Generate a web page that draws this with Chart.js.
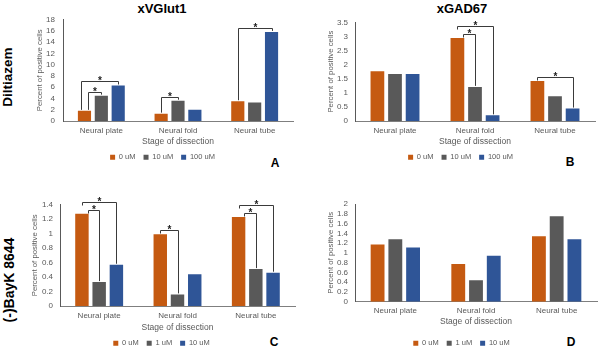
<!DOCTYPE html>
<html>
<head>
<meta charset="utf-8">
<script src="https://cdn.jsdelivr.net/npm/chart.js@4.4.1/dist/chart.umd.min.js"></script>
<style>
    body { margin: 0; width: 600px; height: 347px; overflow: hidden; background: #fff; position: relative;
           font-family: "Liberation Sans", Arial, sans-serif; }
    canvas { position: absolute; }
    .lbl { position: absolute; font-weight: bold; color: #000; white-space: nowrap; line-height: 1;
           transform: translate(-50%, -50%); }
    .rot { transform: translate(-50%, -50%) rotate(-90deg); }
</style>
</head>
<body>
<div class="lbl" style="left:162px; top:8px; font-size:13px;">xVGlut1</div>
<div class="lbl" style="left:462px; top:8px; font-size:13px;">xGAD67</div>
<div class="lbl rot" style="left:8px; top:77px; font-size:13.5px;">Diltiazem</div>
<div class="lbl rot" style="left:9px; top:280px; font-size:14px;">(-)BayK 8644</div>
<div class="lbl" style="left:275px; top:163px; font-size:12px;">A</div>
<div class="lbl" style="left:570px; top:162px; font-size:12px;">B</div>
<div class="lbl" style="left:274px; top:342px; font-size:12px;">C</div>
<div class="lbl" style="left:571px; top:342px; font-size:12px;">D</div>

<canvas id="chartA" width="268" height="171" style="left:32px; top:0px;"></canvas>
<canvas id="chartB" width="274" height="171" style="left:326px; top:0px;"></canvas>
<canvas id="chartC" width="272" height="177" style="left:28px; top:180px;"></canvas>
<canvas id="chartD" width="274" height="177" style="left:326px; top:180px;"></canvas>

<script>
const stages = ['Neural plate', 'Neural fold', 'Neural tube'];
const diltiazemDoses = ['0 uM', '10 uM', '100 uM'];
const baykDoses = ['0 uM', '1 uM', '10 uM'];
const doseColors = ['#C55A11', '#595959', '#2F5597'];

// xVGlut1 with Diltiazem
const vglutDil0 = [1.8, 1.3, 3.5];
const vglutDil10 = [4.5, 3.6, 3.3];
const vglutDil100 = [6.3, 2.0, 15.8];
// xGAD67 with Diltiazem
const gadDil0 = [1.76, 2.94, 1.42];
const gadDil10 = [1.67, 1.21, 0.88];
const gadDil100 = [1.67, 0.2, 0.44];
// xVGlut1 with (-)BayK 8644
const vglutBay0 = [1.275, 0.99, 1.23];
const vglutBay1 = [0.33, 0.16, 0.51];
const vglutBay10 = [0.57, 0.44, 0.46];
// xGAD67 with (-)BayK 8644
const gadBay0 = [1.17, 0.77, 1.34];
const gadBay1 = [1.28, 0.44, 1.75];
const gadBay10 = [1.11, 0.94, 1.28];

// y axis ranges
const vglutDilTicks = { max: 18, step: 2 };
const gadDilTicks = { max: 3.5, step: 0.5 };
const vglutBayTicks = { max: 1.4, step: 0.2 };
const gadBayTicks = { max: 2, step: 0.2 };

// significant comparisons: stage index, control series, treated series
const vglutDilSig = [
    { cat: 0, from: 0, to: 1 },
    { cat: 0, from: 0, to: 2 },
    { cat: 1, from: 0, to: 1 },
    { cat: 2, from: 0, to: 2 }
];
const gadDilSig = [
    { cat: 1, from: 0, to: 1 },
    { cat: 1, from: 0, to: 2 },
    { cat: 2, from: 0, to: 2 }
];
const vglutBaySig = [
    { cat: 0, from: 0, to: 1 },
    { cat: 0, from: 0, to: 2 },
    { cat: 1, from: 0, to: 1 },
    { cat: 2, from: 0, to: 1 },
    { cat: 2, from: 0, to: 2 }
];

const FONT = '"Liberation Sans", Arial, sans-serif';
const TXT = '#595959';

// Draws the "*" brackets between bars. legSide tells which end drops down to its bar.
const sigBrackets = {
    id: 'sigBrackets',
    afterDatasetsDraw(chart, args, opts) {
        const list = opts.list || [];
        if (!list.length) return;
        const ctx = chart.ctx;
        const barAt = (ds, cat) => chart.getDatasetMeta(ds).data[cat];
        const lastLine = {};
        ctx.save();
        ctx.strokeStyle = '#3a3a3a';
        ctx.fillStyle = '#222';
        ctx.lineWidth = 1;
        ctx.font = 'bold 10px ' + FONT;
        ctx.textAlign = 'center';
        ctx.textBaseline = 'alphabetic';

        // inner (shorter) brackets first so outer ones stack above them
        const sorted = list.slice().sort((a, b) => (a.to - a.from) - (b.to - b.from));
        sorted.forEach(b => {
            let peak = Infinity;
            for (let i = b.from; i <= b.to; i++) peak = Math.min(peak, barAt(i, b.cat).y);
            let lineY = peak - 4;
            if (lastLine[b.cat] !== undefined) lineY = Math.min(lineY, lastLine[b.cat] - 8);
            lastLine[b.cat] = lineY;

            const left = barAt(b.from, b.cat);
            const right = barAt(b.to, b.cat);
            const nested = list.filter(o => o.cat === b.cat && o.from === b.from).length > 1;
            const isInner = nested && !list.some(o => o.cat === b.cat && o.from === b.from && (o.to - o.from) < (b.to - b.from));
            let x1 = left.x;
            if (nested) {
                if (opts.legSide === 'left') x1 += (isInner ? 0.25 : -0.25) * left.width;
                else if (isInner) x1 += 0.5 * left.width - 1;
            }
            lineY = Math.round(lineY) + 0.5;
            x1 = Math.round(x1) + 0.5;
            const x2 = Math.round(right.x) + 0.5;

            ctx.beginPath();
            if (opts.legSide === 'left') {
                ctx.moveTo(x1, left.y - 1);
                ctx.lineTo(x1, lineY);
                ctx.lineTo(x2, lineY);
                ctx.lineTo(x2, Math.min(lineY + 3, right.y - 1));
            } else {
                ctx.moveTo(x1, lineY + 3);
                ctx.lineTo(x1, lineY);
                ctx.lineTo(x2, lineY);
                ctx.lineTo(x2, right.y - 1);
            }
            ctx.stroke();
            ctx.fillText('*', (x1 + x2) / 2, lineY - 3.5 + 0.57 * 10);
        });
        ctx.restore();
    }
};

function makePanel(canvasId, series, doses, ticks, sig, legSide, box) {
    const datasets = series.map((values, i) => ({
        label: doses[i],
        data: values,
        backgroundColor: doseColors[i],
        borderWidth: 0,
        categoryPercentage: 0.66,
        barPercentage: 0.78
    }));

    return new Chart(document.getElementById(canvasId), {
        type: 'bar',
        data: { labels: stages, datasets: datasets },
        plugins: [sigBrackets],
        options: {
            responsive: false,
            animation: false,
            events: [],
            layout: { padding: { top: box.top, right: box.right, bottom: 0, left: 0 } },
            plugins: {
                tooltip: { enabled: false },
                legend: {
                    position: 'bottom',
                    labels: {
                        boxWidth: 5,
                        boxHeight: 5,
                        padding: 8,
                        color: TXT,
                        font: { family: FONT, size: 7.5 }
                    }
                },
                sigBrackets: { list: sig, legSide: legSide }
            },
            scales: {
                x: {
                    grid: { display: false, drawTicks: false },
                    border: { display: true, color: '#7f7f7f' },
                    ticks: { color: TXT, font: { family: FONT, size: 8 }, padding: 4.5 },
                    title: {
                        display: true,
                        text: 'Stage of dissection',
                        color: TXT,
                        font: { family: FONT, size: 8.5, lineHeight: 1 },
                        padding: { top: 0, bottom: box.xTitlePad }
                    },
                    afterFit: s => { s.height = box.xHeight; }
                },
                y: {
                    min: 0,
                    max: ticks.max,
                    grid: { display: false, drawTicks: false },
                    border: { display: true, color: '#595959' },
                    ticks: {
                        stepSize: ticks.step,
                        autoSkip: false,
                        color: TXT,
                        font: { family: FONT, size: 8 },
                        padding: box.tickPad,
                        callback: v => String(+v.toFixed(2))
                    },
                    title: {
                        display: true,
                        text: 'Percent of positive cells',
                        color: TXT,
                        font: { family: FONT, size: 7.8, lineHeight: 1 },
                        padding: { top: box.yTitlePad, bottom: 0 }
                    },
                    afterFit: s => { s.width = box.yWidth; }
                }
            }
        }
    });
}

makePanel('chartA', [vglutDil0, vglutDil10, vglutDil100], diltiazemDoses, vglutDilTicks, vglutDilSig, 'left',
    { top: 19.5, right: 7, yWidth: 31, xHeight: 24.5, tickPad: 8, yTitlePad: 4.1, xTitlePad: 0 });
makePanel('chartB', [gadDil0, gadDil10, gadDil100], diltiazemDoses, gadDilTicks, gadDilSig, 'right',
    { top: 22.3, right: 5, yWidth: 29, xHeight: 24.5, tickPad: 7, yTitlePad: 0.8, xTitlePad: 0 });
makePanel('chartC', [vglutBay0, vglutBay1, vglutBay10], baykDoses, vglutBayTicks, vglutBaySig, 'right',
    { top: 24.7, right: 5, yWidth: 32, xHeight: 25.5, tickPad: 7, yTitlePad: 3.1, xTitlePad: 0 });
makePanel('chartD', [gadBay0, gadBay1, gadBay10], baykDoses, gadBayTicks, [], 'right',
    { top: 24, right: 3, yWidth: 29, xHeight: 29.8, tickPad: 7, yTitlePad: 1.1, xTitlePad: 5.5 });
</script>
</body>
</html>
